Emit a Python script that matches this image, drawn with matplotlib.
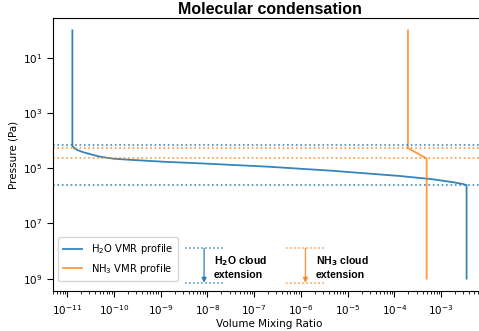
import numpy as np
import matplotlib
matplotlib.use("Agg")
import matplotlib.pyplot as plt
from matplotlib.ticker import LogLocator, NullLocator, FixedLocator

# H2O VMR profile (pressure in Pa, VMR)
h2o_pressure = [1e0, 1.55e4, 1.9e4, 2.2e4, 2.6e4, 3.1e4, 3.8e4, 4.5e4, 5.0e4, 5.8e4,
                6.6e4, 8.7e4, 1.23e5, 1.9e5, 2.5e5, 3.2e5, 3.7e5, 4.1e5, 1e9]
h2o_vmr = [1.3e-11, 1.3e-11, 1.45e-11, 1.7e-11, 2.2e-11, 3.2e-11, 5.1e-11, 1.0e-10, 2.6e-10, 1.2e-9,
           6.9e-9, 1.9e-7, 4.8e-6, 1.3e-4, 6.6e-4, 1.8e-3, 2.9e-3, 3.5e-3, 3.5e-3]

# NH3 VMR profile
nh3_pressure = [1e0, 1.86e4, 4.4e4, 1e9]
nh3_vmr = [1.95e-4, 1.95e-4, 4.9e-4, 4.9e-4]

# cloud boundaries (Pa)
h2o_cloud = [1.4e4, 4.1e5]
nh3_cloud = [1.86e4, 4.4e4]

xticks = [1e-11, 1e-10, 1e-9, 1e-8, 1e-7, 1e-6, 1e-5, 1e-4, 1e-3]
yticks = [1e1, 1e3, 1e5, 1e7, 1e9]

blue = "#1f77b4"
orange = "#ff7f0e"

fig = plt.figure(figsize=(4.79, 3.31), dpi=100)
ax = fig.add_axes([0.1106, 0.1208, 0.904, 0.8248])

ax.plot(h2o_vmr, h2o_pressure, color=blue, lw=1.3, alpha=0.9, label="H$_2$O VMR profile")
ax.plot(nh3_vmr, nh3_pressure, color=orange, lw=1.3, alpha=0.8, label="NH$_3$ VMR profile")
for p in h2o_cloud:
    ax.axhline(p, color=blue, ls=":", lw=1.2, alpha=0.85)
for p in nh3_cloud:
    ax.axhline(p, color=orange, ls=":", lw=1.2, alpha=0.8)

ax.set_xscale("log")
ax.set_yscale("log")
ax.set_xlim(5e-12, 9.1e-3)
ax.set_ylim(10**9.45, 10**-0.45)
ax.xaxis.set_major_locator(FixedLocator(xticks))
ax.xaxis.set_minor_locator(LogLocator(base=10, subs=np.arange(2, 10) * 1.0, numticks=30))
ax.yaxis.set_major_locator(FixedLocator(yticks))
ax.yaxis.set_minor_locator(NullLocator())
ax.tick_params(labelsize=7.5, length=4, width=0.8)
ax.tick_params(axis="x", pad=5)
ax.tick_params(axis="y", pad=3.5)
ax.tick_params(which="minor", length=2, width=0.6)

ax.set_xlabel("Volume Mixing Ratio", fontsize=7.5, labelpad=1)
ax.set_ylabel("Pressure (Pa)", fontsize=7.5, labelpad=3)
ax.set_title("Molecular condensation", fontsize=11.5, fontweight="bold",
             family=["Liberation Sans", "DejaVu Sans"], pad=3)

ax.legend(loc="lower left", fontsize=7.2, handlelength=1.9, borderpad=0.5,
          labelspacing=0.55, handletextpad=0.9, bbox_to_anchor=(0.0, 0.02))

# cloud extension annotations (axes fraction)
for x0, x1, xa, xt, col, txt, a in [
    (0.305, 0.393, 0.349, 0.372, blue, "H$_\\mathbf{2}$O cloud\nextension", 0.85),
    (0.538, 0.628, 0.583, 0.607, orange, "NH$_\\mathbf{3}$ cloud\nextension", 0.8),
]:
    ax.plot([x0, x1], [0.156, 0.156], transform=ax.transAxes, color=col, ls=":", lw=1.1, alpha=a)
    ax.plot([x0, x1], [0.028, 0.028], transform=ax.transAxes, color=col, ls=":", lw=1.1, alpha=a)
    ax.annotate("", xy=(xa, 0.030), xytext=(xa, 0.156), xycoords="axes fraction",
                arrowprops=dict(arrowstyle="-|>", color=col, lw=1.0, alpha=a,
                                mutation_scale=7, shrinkA=0, shrinkB=0))
    ax.text(xt, 0.086, txt, transform=ax.transAxes, fontsize=7.6, fontweight="bold",
            va="center", ha="left", family=["Liberation Sans", "DejaVu Sans"], linespacing=1.25)

fig.savefig("out.png", dpi=100)
